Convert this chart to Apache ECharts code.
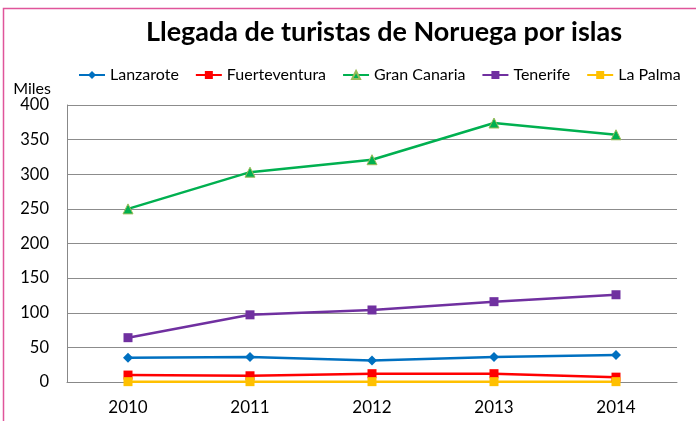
<!DOCTYPE html>
<html>
<head>
<meta charset="utf-8">
<script src="https://cdn.jsdelivr.net/npm/echarts@6/dist/echarts.min.js"></script>
<style>html,body{margin:0;padding:0;background:#fff}#c{width:696px;height:421px}</style>
</head>
<body>
<div id="c"></div>
<script>
var years = ['2010', '2011', '2012', '2013', '2014'];
var lanzarote = [35, 36, 31, 36, 39];
var fuerteventura = [10, 9, 12, 12, 7];
var granCanaria = [250, 303, 321, 374, 357];
var tenerife = [64, 97, 104, 116, 126];
var laPalma = [0.5, 0.5, 0.5, 0.5, 0.5];
var yTicks = [0, 50, 100, 150, 200, 250, 300, 350, 400];

var font = 'Lato, "Open Sans", sans-serif';
var chart = echarts.init(document.getElementById('c'));
function s(name, data, color, symbol, size, extra) {
  return Object.assign({
    name: name, type: 'line', data: data, symbol: symbol, symbolSize: size,
    lineStyle: {color: color, width: 2.5}, itemStyle: {color: color},
    animation: false
  }, extra || {});
}
chart.setOption({
  animation: false,
  title: {
    text: 'Llegada de turistas de Noruega por islas',
    left: 379, top: 14, textAlign: 'center',
    textStyle: {fontFamily: font, fontWeight: 'bold', fontSize: 27, color: '#000'}
  },
  legend: {
    top: 62, left: 73, width: 680, itemWidth: 26, itemHeight: 10, itemGap: 16,
    textStyle: {fontFamily: font, fontSize: 16, color: '#000'},
    data: ['Lanzarote', 'Fuerteventura', 'Gran Canaria', 'Tenerife', 'La Palma']
  },
  graphic: [{
    type: 'rect', shape: {x: 3.5, y: 8.5, width: 720, height: 440},
    style: {fill: 'none', stroke: '#E0559A', lineWidth: 1.5}, silent: true
  }],
  grid: {left: 67, right: 19, top: 105, bottom: 39},
  xAxis: {
    type: 'category', data: years, boundaryGap: true,
    axisLine: {lineStyle: {color: '#888', width: 1}},
    axisTick: {show: false},
    axisLabel: {fontFamily: font, fontSize: 17, color: '#000', margin: 17}
  },
  yAxis: {
    type: 'value', min: 0, max: 400, interval: 50,
    name: 'Miles', nameLocation: 'end', nameGap: 8,
    nameTextStyle: {fontFamily: font, fontSize: 16, color: '#000', align: 'right', padding: [0, 16, -6, 0]},
    axisLine: {show: true, lineStyle: {color: '#888', width: 1}},
    axisTick: {show: false},
    axisLabel: {fontFamily: font, fontSize: 16.5, color: '#000', margin: 18,
      formatter: function (v) { return yTicks.indexOf(v) >= 0 ? String(v) : ''; }},
    splitLine: {lineStyle: {color: '#8c8c8c', width: 1}}
  },
  series: [
    s('Lanzarote', lanzarote, '#0070C0', 'diamond', 10),
    s('Fuerteventura', fuerteventura, '#FF0000', 'rect', 9),
    s('Gran Canaria', granCanaria, '#00B050', 'triangle', 10,
      {itemStyle: {color: '#00B050', borderColor: '#9BBB59', borderWidth: 1}}),
    s('Tenerife', tenerife, '#7030A0', 'rect', 9),
    s('La Palma', laPalma, '#FFC000', 'rect', 9)
  ]
});
</script>
</body>
</html>
